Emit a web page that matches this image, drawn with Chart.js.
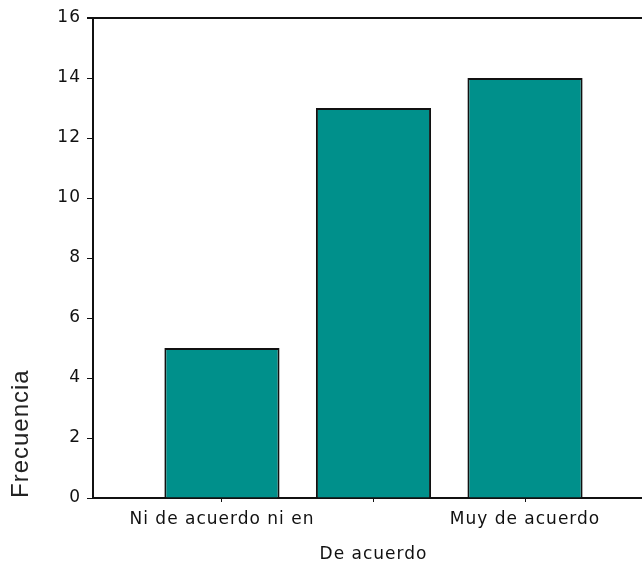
<!DOCTYPE html>
<html>
<head>
<meta charset="utf-8">
<script src="https://cdn.jsdelivr.net/npm/chart.js@4/dist/chart.umd.min.js"></script>
<style>
  html, body { margin: 0; padding: 0; background: #fff; }
  #wrap { width: 642px; height: 567px; position: relative; }
</style>
</head>
<body>
<div id="wrap"><canvas id="chart"></canvas></div>
<script>
// Frecuencia por categoría
const categories = ["Ni de acuerdo ni en", "De acuerdo", "Muy de acuerdo"];
const frequencies = [5, 13, 14];
const yTicks = [0, 2, 4, 6, 8, 10, 12, 14, 16];

const barColor = "#00908b";

// bars sit at x = 1, 2, 3 on a linear axis
const points = categories.map((c, i) => ({ x: i + 1, y: frequencies[i] }));

// top frame line + spaced letters like the original
const framePlugin = {
    id: "frame",
    beforeDraw(chart) {
        chart.ctx.letterSpacing = "1px";
    },
    afterDraw(chart) {
        const { ctx, chartArea } = chart;
        ctx.save();
        ctx.strokeStyle = "#111";
        ctx.lineWidth = 2;
        ctx.beginPath();
        ctx.moveTo(chartArea.left - 6, chartArea.top);
        ctx.lineTo(chartArea.right, chartArea.top);
        ctx.stroke();
        ctx.restore();
        ctx.letterSpacing = "0px";
    }
};

new Chart(document.getElementById("chart"), {
    type: "bar",
    data: {
        datasets: [{
            data: points,
            backgroundColor: barColor,
            borderColor: "#111",
            borderWidth: 2,
            borderSkipped: "start",
            categoryPercentage: 1,
            barPercentage: 0.76
        }]
    },
    options: {
        responsive: true,
        maintainAspectRatio: false,
        animation: false,
        layout: { padding: { top: 18, right: 0, left: 0, bottom: 0 } },
        plugins: {
            legend: { display: false },
            tooltip: { enabled: false }
        },
        scales: {
            x: {
                type: "linear",
                offset: false,
                min: 0.149,
                max: 3.772,
                afterBuildTicks(scale) {
                    scale.ticks = categories.map((c, i) => ({ value: i + 1 }));
                },
                afterFit(scale) { scale.height = 69; },
                ticks: {
                    autoSkip: false,
                    maxRotation: 0,
                    padding: 0,
                    color: "#111",
                    font: { family: "DejaVu Sans", size: 17, lineHeight: "35px" },
                    callback(value) {
                        const i = Math.round(value) - 1;
                        // stagger the middle label onto a second line
                        return i % 2 === 1 ? ["", categories[i]] : categories[i];
                    }
                },
                grid: {
                    offset: false,
                    drawOnChartArea: false,
                    drawTicks: true,
                    tickLength: 4,
                    color: "#111"
                },
                border: { display: true, color: "#111", width: 2 }
            },
            y: {
                min: 0,
                max: 16,
                afterBuildTicks(scale) {
                    scale.ticks = yTicks.map(v => ({ value: v }));
                },
                afterFit(scale) { scale.width = 93; },
                ticks: {
                    padding: 6,
                    color: "#111",
                    font: { family: "DejaVu Sans", size: 17 }
                },
                grid: {
                    drawOnChartArea: false,
                    drawTicks: true,
                    tickLength: 6,
                    color: "#111"
                },
                border: { display: true, color: "#111", width: 2 },
                title: {
                    display: true,
                    text: "Frecuencia",
                    align: "start",
                    color: "#222",
                    padding: { top: 7, bottom: 0 },
                    font: { family: "Liberation Sans", size: 24 }
                }
            }
        }
    },
    plugins: [framePlugin]
});
</script>
</body>
</html>
